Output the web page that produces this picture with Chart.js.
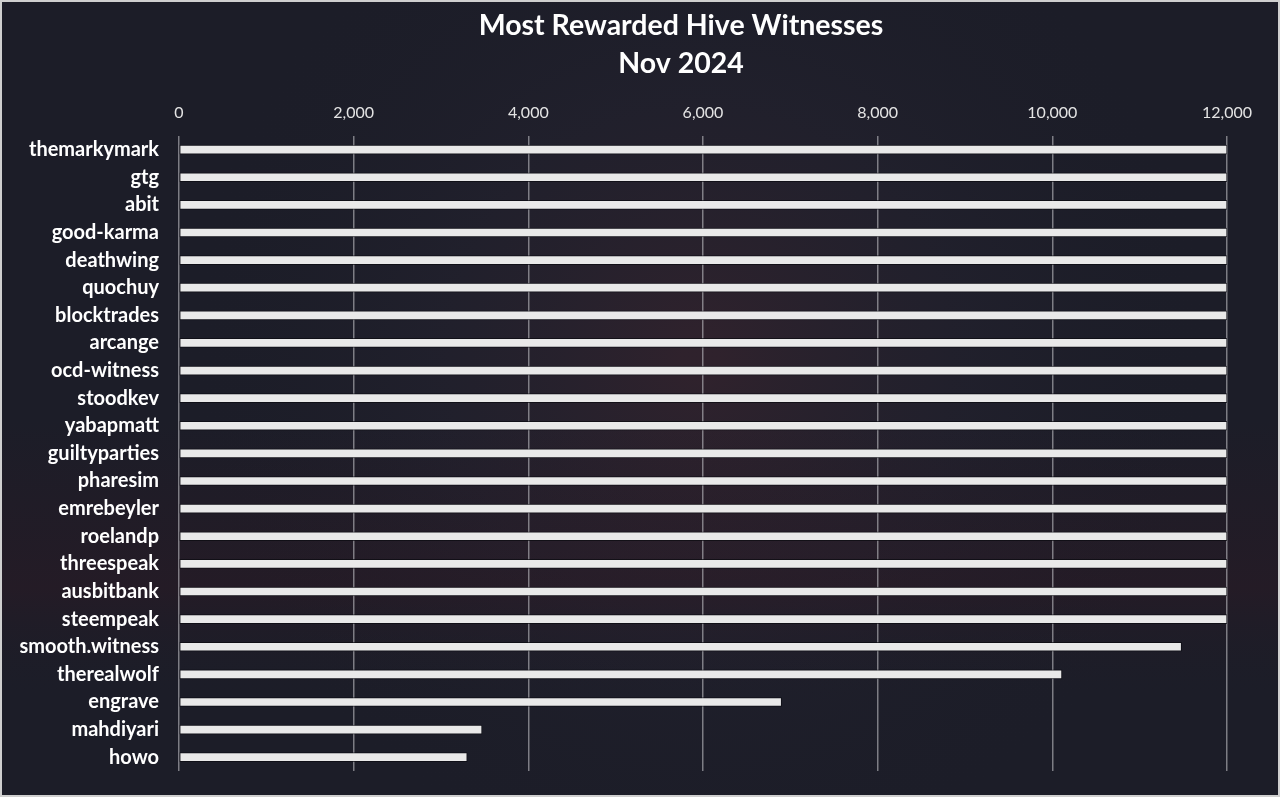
<!DOCTYPE html>
<html>
<head>
<meta charset="utf-8">
<script src="https://cdn.jsdelivr.net/npm/chart.js@4"></script>
<style>
  html, body { margin: 0; padding: 0; background: #1d1e29; }
  canvas { display: block; }
</style>
</head>
<body>
<canvas id="witnessChart" width="1280" height="797"></canvas>
<script>
const witnesses = [
  "themarkymark", "gtg", "abit", "good-karma", "deathwing", "quochuy",
  "blocktrades", "arcange", "ocd-witness", "stoodkev", "yabapmatt",
  "guiltyparties", "pharesim", "emrebeyler", "roelandp", "threespeak",
  "ausbitbank", "steempeak", "smooth.witness", "therealwolf", "engrave",
  "mahdiyari", "howo"
];

// everything up to steempeak runs off the end of the 12,000 axis
const rewards = [
  12000, 12000, 12000, 12000, 12000, 12000,
  12000, 12000, 12000, 12000, 12000,
  12000, 12000, 12000, 12000, 12000,
  12000, 12000, 11480, 10110, 6900,
  3470, 3300
];

const axisTicks = [0, 2000, 4000, 6000, 8000, 10000, 12000];

const titleLines = ["Most Rewarded Hive Witnesses", "Nov 2024"];

// dark backdrop + thin frame, drawn before the chart
const backdrop = {
  id: "backdrop",
  afterLayout(chart) {
    // centre the title on the picture rather than on the padded box
    if (chart.titleBlock) {
      chart.titleBlock.left = 135;
      chart.titleBlock.right = 1227;
      chart.titleBlock.width = 1092;
    }
  },
  beforeDraw(chart) {
    const { ctx, width, height } = chart;
    ctx.save();
    ctx.fillStyle = "#1c1d28";
    ctx.fillRect(0, 0, width, height);

    let g = ctx.createRadialGradient(700, 360, 20, 700, 360, 520);
    g.addColorStop(0, "rgba(70, 40, 50, 0.45)");
    g.addColorStop(0.5, "rgba(45, 40, 55, 0.25)");
    g.addColorStop(1, "rgba(28, 29, 40, 0)");
    ctx.fillStyle = g;
    ctx.fillRect(0, 0, width, height);

    g = ctx.createLinearGradient(0, 420, 0, 700);
    g.addColorStop(0, "rgba(60, 20, 30, 0)");
    g.addColorStop(0.6, "rgba(60, 22, 32, 0.25)");
    g.addColorStop(1, "rgba(28, 29, 40, 0)");
    ctx.fillStyle = g;
    ctx.fillRect(0, 420, width, 280);

    ctx.strokeStyle = "#cfcfcf";
    ctx.lineWidth = 2;
    ctx.strokeRect(1, 1, width - 2, height - 2);
    ctx.restore();
  }
};

new Chart(document.getElementById("witnessChart"), {
  type: "bar",
  data: {
    labels: witnesses,
    datasets: [{
      data: rewards,
      backgroundColor: "#e9e9e9",
      borderColor: "rgba(10, 10, 15, 0.7)",
      borderWidth: 1,
      borderSkipped: false,
      barThickness: 9
    }]
  },
  options: {
    indexAxis: "y",
    responsive: false,
    animation: false,
    layout: { padding: { left: 0, right: 53, top: 0, bottom: 26 } },
    plugins: {
      legend: { display: false },
      tooltip: { enabled: false },
      title: {
        display: true,
        text: titleLines,
        color: "#ffffff",
        font: { family: "Lato", size: 28.5, weight: "bold", lineHeight: 1.33 },
        padding: { top: 7, bottom: 0 }
      }
    },
    scales: {
      x: {
        position: "top",
        min: 0,
        max: 12000,
        afterBuildTicks(scale) {
          scale.ticks = axisTicks.map(v => ({ value: v }));
        },
        afterFit(scale) { scale.height = 53; },
        ticks: {
          color: "#e4e4e4",
          padding: 13,
          font: { family: "Lato", size: 16 },
          callback: v => v.toLocaleString("en-US")
        },
        grid: { color: "rgba(190, 190, 195, 0.6)", lineWidth: 1.5, drawTicks: false },
        border: { display: false }
      },
      y: {
        afterFit(scale) {
          scale.width = 179;
          scale.paddingTop = 0;
          scale.paddingBottom = 0;
        },
        ticks: {
          color: "#ffffff",
          padding: 20,
          font: { family: "Lato", size: 20, weight: "bold" }
        },
        grid: { display: false, drawTicks: false },
        border: { display: false }
      }
    }
  },
  plugins: [backdrop]
});
</script>
</body>
</html>
